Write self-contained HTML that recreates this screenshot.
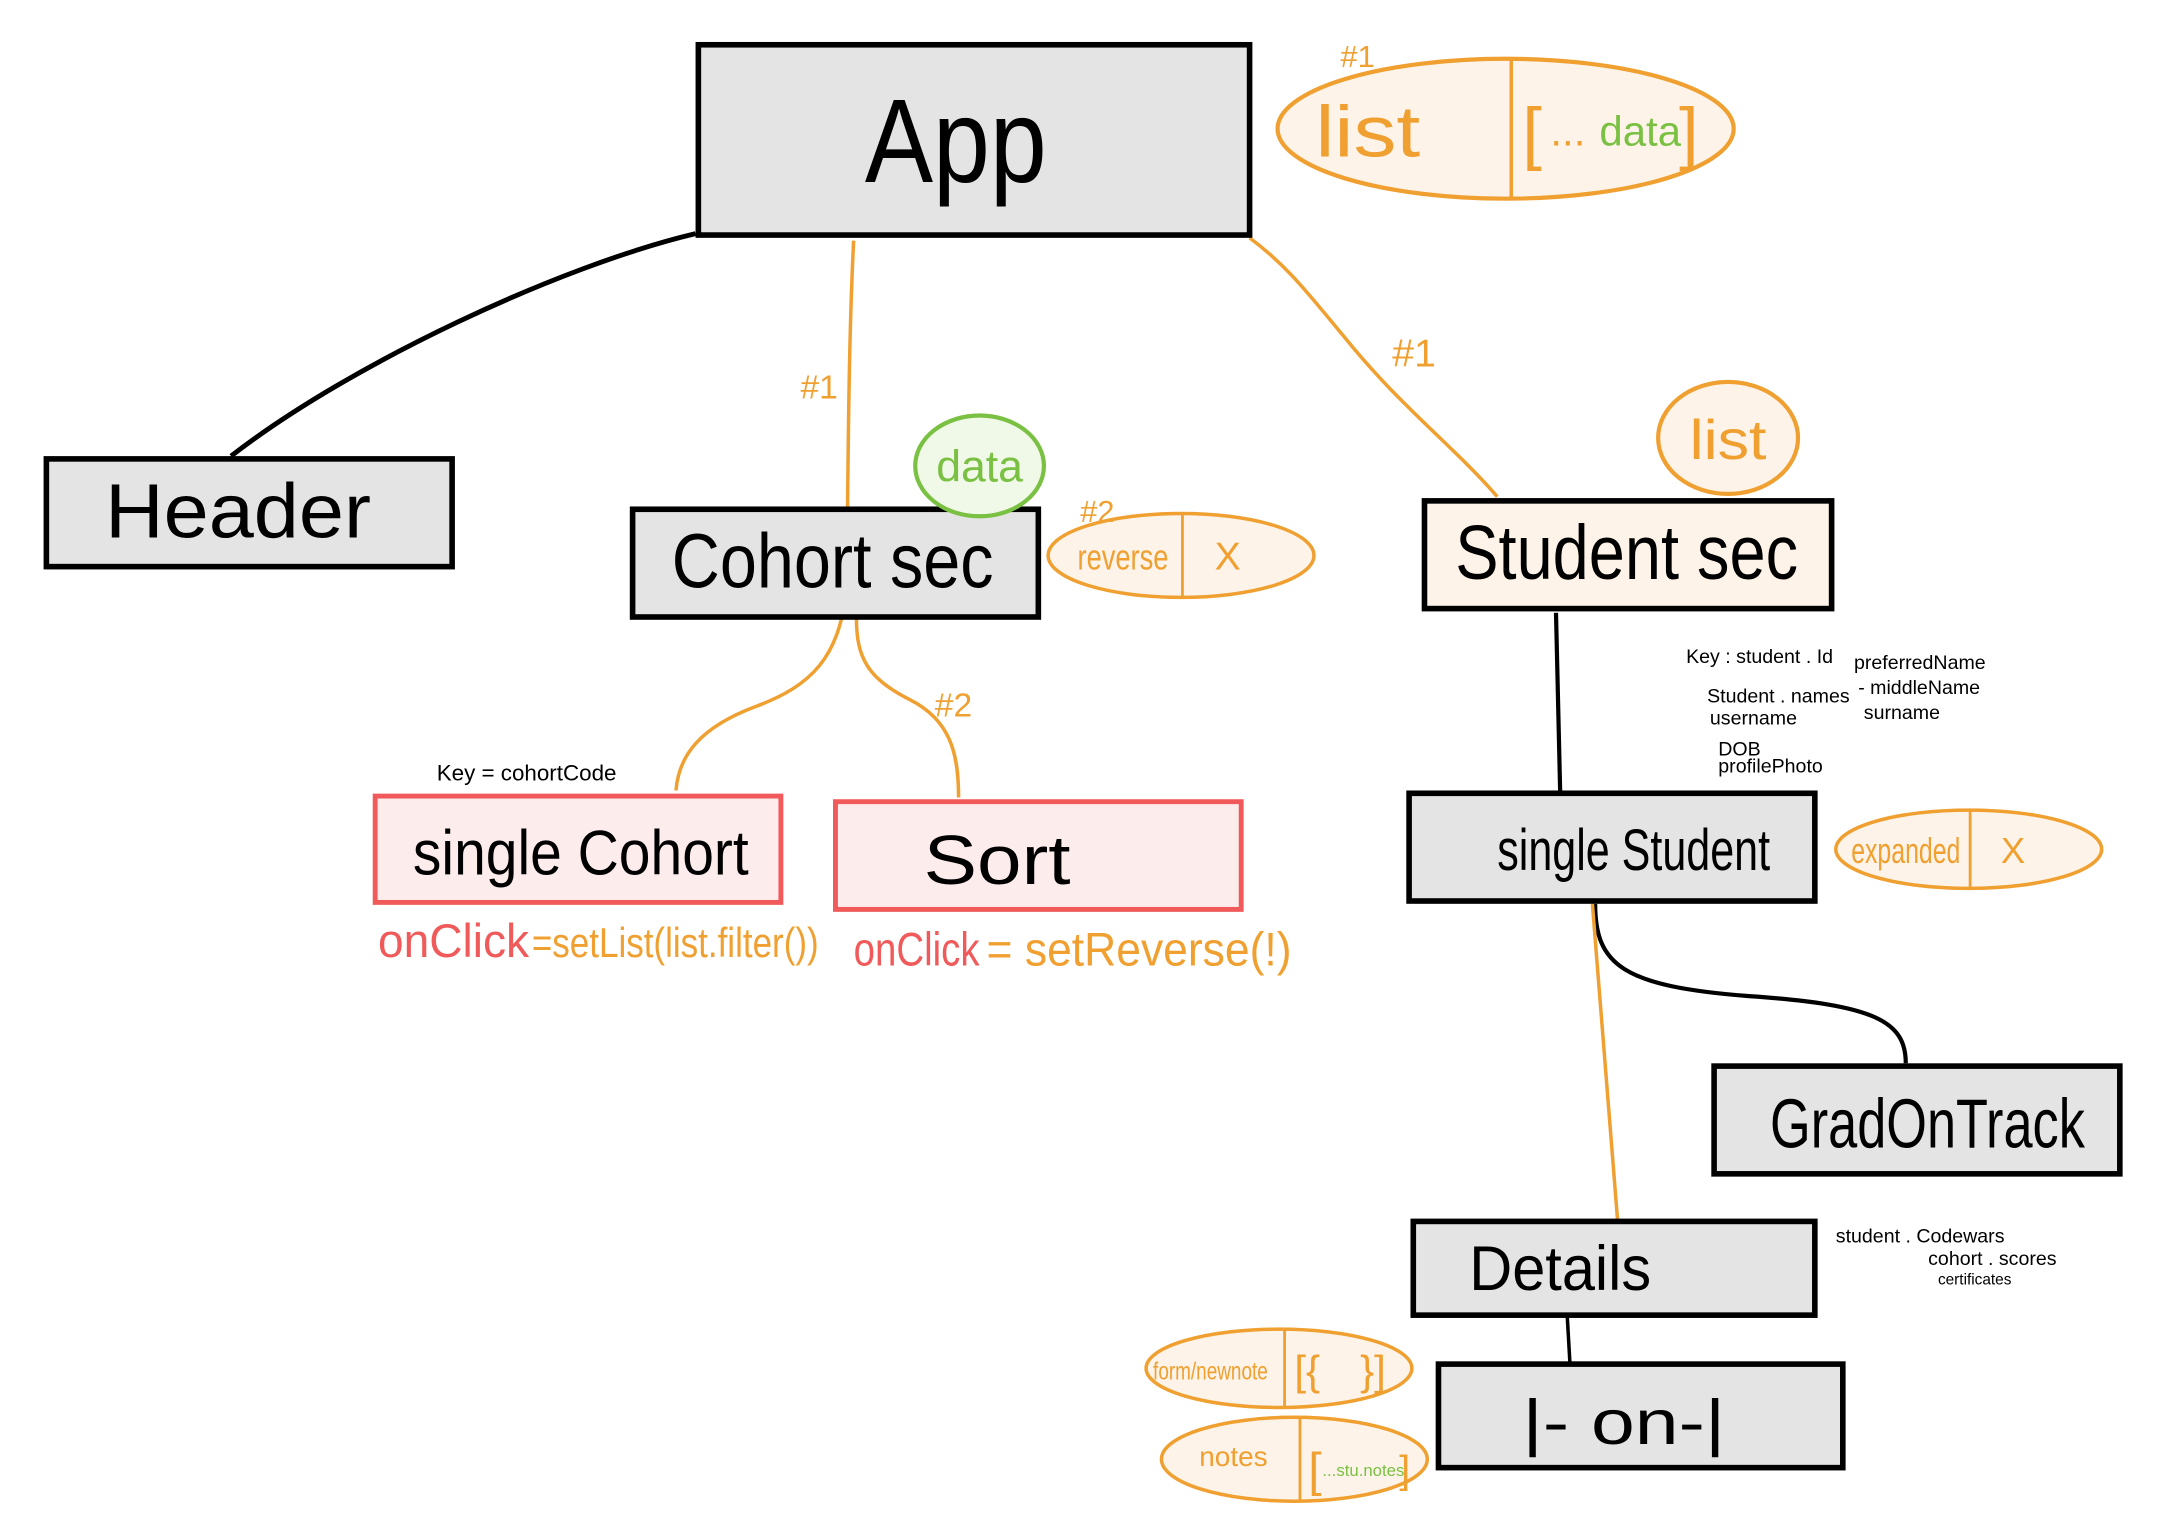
<!DOCTYPE html>
<html><head><meta charset="utf-8"><style>
html,body{margin:0;padding:0;background:#fff;}
svg{display:block;}
text{font-family:"Liberation Sans",sans-serif;}
</style></head><body>
<svg width="2183" height="1539" viewBox="0 0 1560 1100" xmlns="http://www.w3.org/2000/svg">
<rect width="1560" height="1100" fill="#fff"/>
<!-- connectors -->
<path d="M497,167 C400,190 250,260 165,326" fill="none" stroke="#000" stroke-width="3.5"/>
<path d="M610,172 C606,250 606,350 605,420 C600,470 580,490 540,505 C500,520 485,540 483,565" fill="none" stroke="#f0a030" stroke-width="2.5"/>
<path d="M612,442 C612,470 620,485 650,500 C680,515 685,540 685,570" fill="none" stroke="#f0a030" stroke-width="2.5"/>
<path d="M893,170 C920,190 935,210 960,240 C1000,290 1040,320 1070,355" fill="none" stroke="#f0a030" stroke-width="2.5"/>
<path d="M1112,438 L1115,567" stroke="#000" stroke-width="3"/>
<path d="M1140,646 C1140,690 1160,705 1250,712 C1340,718 1362,730 1362,760" fill="none" stroke="#000" stroke-width="3"/>
<path d="M1138,646 L1156,872" stroke="#f0a030" stroke-width="2.5"/>
<path d="M1120,940 L1122,975" stroke="#000" stroke-width="2.5"/>
<!-- boxes -->
<rect x="499" y="32" width="394" height="136" fill="#e4e4e4" stroke="#000" stroke-width="4"/>
<text x="683" y="130" font-size="85" text-anchor="middle" textLength="130" lengthAdjust="spacingAndGlyphs">App</text>
<rect x="33" y="328" width="290" height="77" fill="#e4e4e4" stroke="#000" stroke-width="4"/>
<text x="170" y="384" font-size="55" text-anchor="middle" textLength="190" lengthAdjust="spacingAndGlyphs">Header</text>
<rect x="452" y="364" width="290" height="77" fill="#e4e4e4" stroke="#000" stroke-width="4"/>
<text x="480" y="420" font-size="55" textLength="230" lengthAdjust="spacingAndGlyphs">Cohort sec</text>
<rect x="1018" y="358" width="291" height="77" fill="#fdf3e8" stroke="#000" stroke-width="4"/>
<text x="1040" y="414" font-size="55" textLength="245" lengthAdjust="spacingAndGlyphs">Student sec</text>
<rect x="268" y="569" width="290" height="76" fill="#fdecec" stroke="#f05a5a" stroke-width="3.5"/>
<text x="295" y="625" font-size="45" textLength="240" lengthAdjust="spacingAndGlyphs">single Cohort</text>
<rect x="597" y="573" width="290" height="77" fill="#fdecec" stroke="#f05a5a" stroke-width="3.5"/>
<text x="660" y="632" font-size="50" textLength="105" lengthAdjust="spacingAndGlyphs">Sort</text>
<rect x="1007" y="567" width="290" height="77" fill="#e4e4e4" stroke="#000" stroke-width="4"/>
<text x="1070" y="622" font-size="42" textLength="195" lengthAdjust="spacingAndGlyphs">single Student</text>
<rect x="1225" y="762" width="290" height="77" fill="#e4e4e4" stroke="#000" stroke-width="4"/>
<text x="1265" y="820" font-size="50" textLength="225" lengthAdjust="spacingAndGlyphs">GradOnTrack</text>
<rect x="1010" y="873" width="287" height="67" fill="#e4e4e4" stroke="#000" stroke-width="4"/>
<text x="1050" y="922" font-size="45" textLength="130" lengthAdjust="spacingAndGlyphs">Details</text>
<rect x="1028" y="975" width="289" height="74" fill="#e4e4e4" stroke="#000" stroke-width="4"/>
<text x="1088" y="1032" font-size="45" textLength="145" lengthAdjust="spacingAndGlyphs">|- on-|</text>
<!-- state ellipses -->
<ellipse cx="1076" cy="92" rx="163" ry="50" fill="#fdf3e8" stroke="#f0a030" stroke-width="3"/>
<line x1="1080" y1="42" x2="1080" y2="142" stroke="#f0a030" stroke-width="2.5"/>
<text x="940" y="112" font-size="52" fill="#f0a030" textLength="75" lengthAdjust="spacingAndGlyphs">list</text>
<text x="1088" y="112" font-size="50" fill="#f0a030">[</text>
<text x="1108" y="104" font-size="30" fill="#f0a030">...</text>
<text x="1143" y="104" font-size="30" fill="#7ac143">data</text>
<text x="1200" y="112" font-size="50" fill="#f0a030">]</text>
<text x="958" y="48" font-size="22" fill="#f0a030">#1</text>
<ellipse cx="700" cy="333" rx="46" ry="36" fill="#f0f8e8" stroke="#7ac143" stroke-width="3"/>
<text x="700" y="344" font-size="32" fill="#7ac143" text-anchor="middle" textLength="62" lengthAdjust="spacingAndGlyphs">data</text>
<ellipse cx="844" cy="397" rx="95" ry="30" fill="#fdf3e8" stroke="#f0a030" stroke-width="2.5"/>
<line x1="845" y1="367" x2="845" y2="427" stroke="#f0a030" stroke-width="2"/>
<text x="770" y="407" font-size="26" fill="#f0a030" textLength="65" lengthAdjust="spacingAndGlyphs">reverse</text>
<text x="868" y="407" font-size="28" fill="#f0a030">X</text>
<text x="772" y="373" font-size="22" fill="#f0a030">#2</text>
<ellipse cx="1235" cy="313" rx="50" ry="40" fill="#fdf3e8" stroke="#f0a030" stroke-width="3"/>
<text x="1235" y="328" font-size="40" fill="#f0a030" text-anchor="middle" textLength="55" lengthAdjust="spacingAndGlyphs">list</text>
<ellipse cx="1407" cy="607" rx="95" ry="28" fill="#fdf3e8" stroke="#f0a030" stroke-width="2.5"/>
<line x1="1408" y1="579" x2="1408" y2="635" stroke="#f0a030" stroke-width="2"/>
<text x="1323" y="617" font-size="26" fill="#f0a030" textLength="78" lengthAdjust="spacingAndGlyphs">expanded</text>
<text x="1430" y="617" font-size="26" fill="#f0a030">X</text>
<ellipse cx="914" cy="978" rx="95" ry="28" fill="#fdf3e8" stroke="#f0a030" stroke-width="2.5"/>
<line x1="918" y1="950" x2="918" y2="1006" stroke="#f0a030" stroke-width="2"/>
<text x="824" y="986" font-size="18" fill="#f0a030" textLength="82" lengthAdjust="spacingAndGlyphs">form/newnote</text>
<text x="925" y="990" font-size="30" fill="#f0a030">[{</text>
<text x="972" y="990" font-size="30" fill="#f0a030">}]</text>
<ellipse cx="925" cy="1043" rx="95" ry="30" fill="#fdf3e8" stroke="#f0a030" stroke-width="2.5"/>
<line x1="929" y1="1013" x2="929" y2="1073" stroke="#f0a030" stroke-width="2"/>
<text x="857" y="1048" font-size="20" fill="#f0a030">notes</text>
<text x="935" y="1062" font-size="34" fill="#f0a030">[</text>
<text x="945" y="1055" font-size="12" fill="#7ac143">...stu.notes</text>
<text x="1000" y="1060" font-size="28" fill="#f0a030">]</text>
<!-- labels -->
<text x="572" y="285" font-size="24" fill="#f0a030">#1</text>
<text x="668" y="512" font-size="24" fill="#f0a030">#2</text>
<text x="995" y="262" font-size="28" fill="#f0a030">#1</text>
<text x="312" y="558" font-size="16" fill="#000">Key = cohortCode</text>
<text x="270" y="684" font-size="34" fill="#f05a5a" textLength="108" lengthAdjust="spacingAndGlyphs">onClick</text>
<text x="380" y="684" font-size="30" fill="#f0a030" textLength="205" lengthAdjust="spacingAndGlyphs">=setList(list.filter())</text>
<text x="610" y="690" font-size="34" fill="#f05a5a" textLength="90" lengthAdjust="spacingAndGlyphs">onClick</text>
<text x="705" y="690" font-size="34" fill="#f0a030" textLength="218" lengthAdjust="spacingAndGlyphs">= setReverse(!)</text>
<g font-size="14" fill="#000">
<text x="1205" y="474">Key : student . Id</text>
<text x="1325" y="478">preferredName</text>
<text x="1220" y="502">Student . names</text>
<text x="1328" y="496">- middleName</text>
<text x="1222" y="518">username</text>
<text x="1332" y="514">surname</text>
<text x="1228" y="540">DOB</text>
<text x="1228" y="552">profilePhoto</text>
<text x="1312" y="888">student . Codewars</text>
<text x="1378" y="904">cohort . scores</text>
<text x="1385" y="918" font-size="11">certificates</text>
</g>
</svg>
</body></html>
